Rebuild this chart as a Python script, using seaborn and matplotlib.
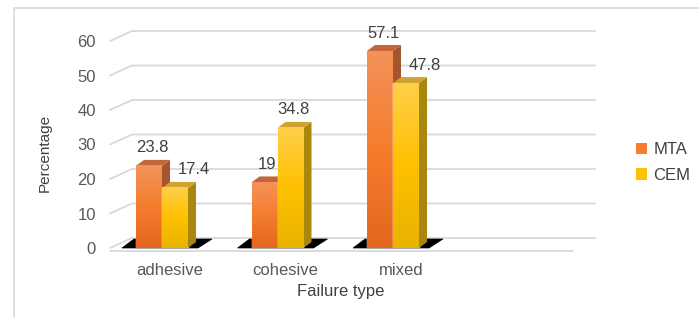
import numpy as np
import pandas as pd
import seaborn as sns
import matplotlib.pyplot as plt
from matplotlib.patches import Polygon, Patch, Rectangle
from matplotlib.lines import Line2D
from matplotlib.transforms import IdentityTransform, ScaledTranslation
from matplotlib.colors import LinearSegmentedColormap

# data
failure_types = ['adhesive', 'cohesive', 'mixed']
mta = [23.8, 19, 57.1]
cem = [17.4, 34.8, 47.8]
materials = ['MTA', 'CEM']

df = pd.DataFrame({
    'type': failure_types * 2,
    'pct': mta + cem,
    'material': ['MTA'] * 3 + ['CEM'] * 3,
})

# colours: gradient front (top, mid, bottom), top face, side face
front = {'MTA': ['#F3925A', '#F57D2D', '#E3671E'], 'CEM': ['#FFCF4A', '#FFC000', '#E9B300']}
top_c = {'MTA': '#C2663C', 'CEM': '#D0A230'}
side_c = {'MTA': '#A5552E', 'CEM': '#A9870E'}
grid_c = '#D9D9D9'

sns.set_style('white')
plt.rcParams['font.family'] = ['Liberation Sans', 'DejaVu Sans']

fig = plt.figure(figsize=(6.99, 3.18), dpi=100)
W, H = 699, 318
ax = fig.add_axes([110 / W, 70 / H, 463 / W, 207 / H])

sns.barplot(data=df, x='type', y='pct', hue='material', hue_order=materials,
            palette=[front['MTA'][1], front['CEM'][1]], width=0.45,
            order=failure_types, legend=False, ax=ax, zorder=3)

xlim = (-0.45, 3.558)
ylim = (0, 60)
ax.set_xlim(*xlim)
ax.set_ylim(*ylim)
for s in ax.spines.values():
    s.set_visible(False)
ax.grid(False)

ident = IdentityTransform()
def D(x, y):
    return ax.transData.transform((x, y))

# back wall gridlines (pixel depth offset)
gdx, gdy = 22, 10
for v in range(0, 70, 10):
    f = D(xlim[0], v)
    r = D(xlim[1], v)
    ax.add_line(Line2D([f[0], f[0] + gdx, r[0] + gdx], [f[1], f[1] + gdy, r[1] + gdy],
                       color=grid_c, lw=1.3, transform=ident, clip_on=False, zorder=0))
f0 = D(xlim[0], 0)
r0 = D(xlim[1], 0)
ax.add_line(Line2D([f0[0], r0[0]], [f0[1] - 3, r0[1] - 3], color=grid_c, lw=1.3,
                   transform=ident, clip_on=False, zorder=0))

# floor shadows under each group
bdx, bdy = 8, 6
for i in range(len(failure_types)):
    p_m = ax.containers[0][i]
    p_c = ax.containers[1][i]
    a = D(p_m.get_x(), 0)
    b = D(p_c.get_x() + p_c.get_width(), 0)
    shadow = Polygon([(a[0] - 14, a[1]), (b[0] + 10, b[1]), (b[0] + 24, b[1] + 9),
                      (a[0] - 2, a[1] + 9)], closed=True, facecolor='black',
                     edgecolor='black', lw=0.5, transform=ident, clip_on=False, zorder=1)
    ax.add_patch(shadow)

# 3D faces + gradient fronts
z = 4
for k, mat in enumerate(materials):
    cmap = LinearSegmentedColormap.from_list(mat, front[mat][::-1])
    grad = np.linspace(0, 1, 100).reshape(-1, 1)
    for bar in ax.containers[k]:
        x0 = bar.get_x()
        x1 = x0 + bar.get_width()
        h = bar.get_height()
        p00, p10, p01, p11 = D(x0, 0), D(x1, 0), D(x0, h), D(x1, h)
        side = Polygon([p10, p11, p11 + [bdx, bdy], p10 + [bdx, bdy]], closed=True,
                       facecolor=side_c[mat], edgecolor='none', transform=ident,
                       clip_on=False, zorder=z)
        top = Polygon([p01, p11, p11 + [bdx, bdy], p01 + [bdx, bdy]], closed=True,
                      facecolor=top_c[mat], edgecolor='none', transform=ident,
                      clip_on=False, zorder=z)
        ax.add_patch(side)
        ax.add_patch(top)
        bar.set_zorder(z)
        ax.imshow(grad, cmap=cmap, extent=[x0, x1, 0, h], origin='lower',
                  aspect='auto', zorder=z + 0.5, interpolation='bilinear')
        z += 1

ax.set_xlim(*xlim)
ax.set_ylim(*ylim)

# value labels
for k, mat in enumerate(materials):
    vals = mta if mat == 'MTA' else cem
    for i, bar in enumerate(ax.containers[k]):
        cx = bar.get_x() + bar.get_width() / 2
        dx = 3
        if mat == 'CEM' and mta[i] > cem[i]:
            dx = 19
        p = D(cx, vals[i])
        ax.text(p[0] + dx, p[1] + 18, f'{vals[i]:g}', transform=ident,
                ha='center', va='center', fontsize=12, color='#404040', zorder=20)

# ticks
ax.set_yticks(range(0, 70, 10))
ax.tick_params(axis='both', length=0, labelsize=12, colors='#595959')
ax.tick_params(axis='y', pad=10)
ax.tick_params(axis='x', pad=11)
ax.set_xticks(range(len(failure_types)))
ax.set_xticklabels(failure_types)
for lab in ax.get_xticklabels():
    lab.set_transform(lab.get_transform() + ScaledTranslation(8 / 100, 0, fig.dpi_scale_trans))

ax.set_xlabel('Failure type', fontsize=12, color='#404040')
ax.set_ylabel('Percentage', fontsize=11, color='#404040')
ax.xaxis.set_label_coords((341 - 110) / 463, -(284 - 248) / 207)
ax.yaxis.set_label_coords((45 - 110) / 463, (248 - 153) / 207)
ax.yaxis.label.set_verticalalignment('center')

handles = [Patch(facecolor=front[m][1], edgecolor='none') for m in materials]
fig.legend(handles, materials, loc='upper left', bbox_to_anchor=(636 / W, 1 - 142 / H),
           frameon=False, fontsize=12, handlelength=0.65, handleheight=0.65,
           handletextpad=0.4, labelspacing=0.65, borderpad=0, borderaxespad=0,
           labelcolor='#404040')

# outer chart frame
fig.add_artist(Rectangle((14 / W, -0.05), 1.0, 1 - 8 / H + 0.05, transform=fig.transFigure,
                         fill=False, edgecolor=grid_c, lw=1.2))

fig.savefig('out.png', dpi=100)
